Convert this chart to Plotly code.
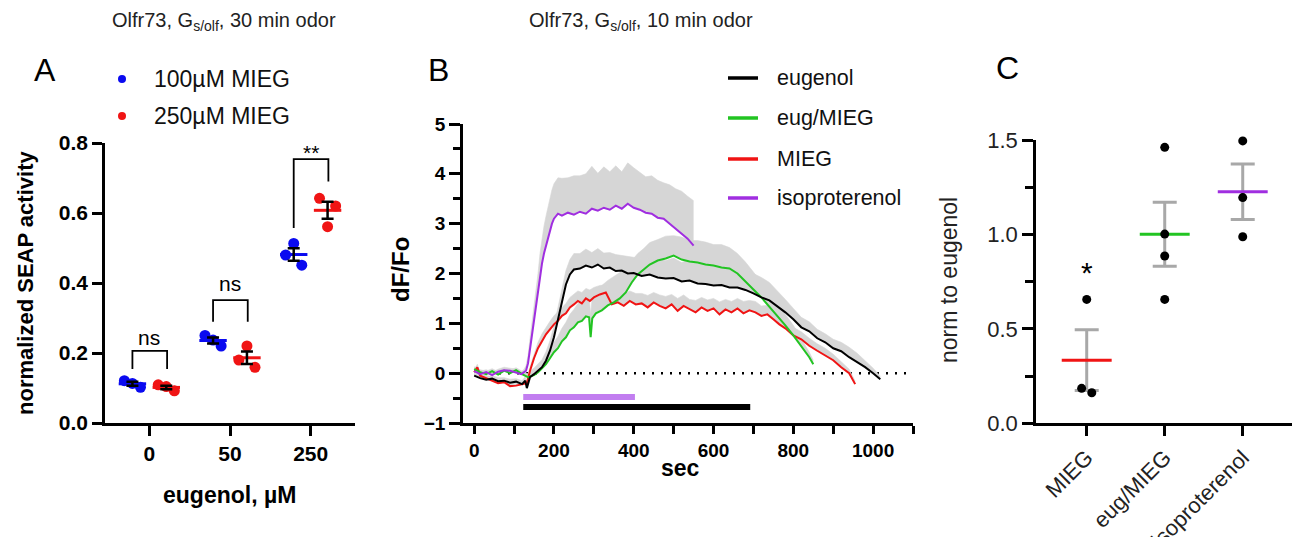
import plotly.graph_objects as go

# ---------------- data ----------------
# Panel A: SEAP activity, points listed left-to-right within each group
a_groups = ["0", "50", "250"]
a_100_mieg = [[0.121, 0.113, 0.102], [0.25, 0.237, 0.22], [0.48, 0.513, 0.451]]
a_250_mieg = [[0.109, 0.104, 0.092], [0.18, 0.22, 0.159], [0.642, 0.561, 0.62]]

# Panel B: dF/Fo traces (mean, sem) vs seconds
eug_t = [0, 15, 30, 45, 60, 75, 90, 105, 120,
         128, 132, 140, 150, 160, 170, 180, 190, 200, 210, 220, 230, 240,
         250, 265, 280, 295, 310, 325, 340, 355, 370, 385, 400,
         420, 440, 460, 480, 500, 520, 540, 560, 580, 600, 620, 640, 660, 680, 700,
         720, 740, 760, 780, 800, 820, 840, 860, 880, 900, 920, 940, 960, 980, 1000,
         1018]
eug_v = [-0.05, -0.1, -0.13, -0.11, -0.16, -0.15, -0.19, -0.17, -0.22,
         -0.15, -0.3, -0.08, -0.02, 0.05, 0.12, 0.25, 0.45, 0.72, 1.08, 1.45, 1.78, 1.98,
         2.08, 2.1, 2.16, 2.12, 2.18, 2.1, 2.12, 2.05, 2.06, 2.0, 2.01,
         1.95, 1.98, 1.92, 1.9, 1.91, 1.84, 1.86, 1.8, 1.79, 1.76, 1.77, 1.72, 1.72, 1.67, 1.6,
         1.52, 1.46, 1.34, 1.22, 1.08, 0.92, 0.84, 0.7, 0.62, 0.5, 0.44, 0.32, 0.22, 0.12, 0.0,
         -0.12]
eug_sem = [0.06, 0.06, 0.07, 0.06, 0.07, 0.06, 0.07, 0.06, 0.07,
           0.08, 0.1, 0.12, 0.12, 0.14, 0.15, 0.18, 0.2, 0.22, 0.24, 0.26, 0.28, 0.3,
           0.32, 0.3, 0.33, 0.3, 0.32, 0.31, 0.3, 0.33, 0.3, 0.34, 0.32,
           0.35, 0.33, 0.38, 0.36, 0.4, 0.38, 0.42, 0.4, 0.42, 0.44, 0.4, 0.42, 0.4, 0.42, 0.4,
           0.4, 0.36, 0.32, 0.26, 0.22, 0.2, 0.19, 0.18, 0.17, 0.18, 0.18, 0.2, 0.18, 0.14, 0.1,
           0.06]

eugmieg_t = [0, 15, 30, 45, 60, 75, 90, 105, 120, 135,
             150, 160, 170, 180, 190, 200, 210, 220, 230, 240, 250, 260, 270, 280,
             288, 292, 296, 305,
             320, 335, 350, 365, 380, 395, 410, 425, 440,
             460, 480, 500, 520, 540, 560, 580, 600, 620, 640, 660, 680, 700, 720, 740,
             760, 780, 800, 820, 840,
             850]
eugmieg_v = [0.08, 0.02, -0.02, 0.04, -0.03, 0.05, 0.0, 0.06, -0.02, -0.08,
             -0.04, 0.02, 0.1, 0.18, 0.3, 0.42, 0.5, 0.64, 0.72, 0.86, 0.92, 1.02, 1.05, 1.14,
             1.12, 0.72, 1.1, 1.2,
             1.26, 1.36, 1.42, 1.5, 1.62, 1.82, 1.98, 2.08, 2.18,
             2.26, 2.3, 2.36, 2.28, 2.24, 2.22, 2.18, 2.16, 2.12, 2.1, 2.0, 1.85, 1.68, 1.52, 1.34,
             1.16, 0.96, 0.76, 0.55, 0.32,
             0.18]
eugmieg_sem = [0.05, 0.05, 0.06, 0.05, 0.06, 0.05, 0.06, 0.05, 0.06, 0.07,
               0.08, 0.1, 0.12, 0.15, 0.18, 0.2, 0.24, 0.26, 0.3, 0.32, 0.36, 0.38, 0.4, 0.42,
               0.42, 0.45, 0.45, 0.45,
               0.5, 0.5, 0.52, 0.52, 0.5, 0.45, 0.42, 0.42, 0.44,
               0.42, 0.45, 0.4, 0.45, 0.42, 0.44, 0.45, 0.42, 0.46, 0.42, 0.4, 0.38, 0.35, 0.3, 0.28,
               0.25, 0.22, 0.2, 0.15, 0.1,
               0.08]

mieg_t = [0, 8, 15, 30, 45, 60, 75, 90, 105, 120, 132,
          140, 150, 160, 170, 180, 190, 200, 210, 220, 230, 240, 250, 260, 270, 280, 290, 300,
          315, 330, 345, 360, 375, 390, 405, 420, 435, 450,
          465, 480, 495, 510, 525, 540, 555, 570, 585, 600,
          615, 630, 645, 660, 675, 690, 705, 720, 735, 750,
          765, 780,
          800, 820, 840, 860, 880, 900, 920, 940,
          955]
mieg_v = [0.02, 0.12, -0.05, -0.1, -0.14, -0.2, -0.18, -0.26, -0.25, -0.22, -0.2,
          0.05, 0.3, 0.5, 0.65, 0.78, 0.88, 0.98, 1.05, 1.15, 1.2, 1.32, 1.38, 1.45, 1.4, 1.5, 1.45, 1.52,
          1.58, 1.62, 1.38, 1.42, 1.35, 1.45, 1.38, 1.4, 1.32, 1.42,
          1.35, 1.3, 1.38, 1.25, 1.35, 1.28, 1.22, 1.32, 1.25, 1.3,
          1.18, 1.28, 1.22, 1.3, 1.2, 1.26, 1.22, 1.15, 1.18, 1.08,
          0.98, 0.9,
          0.76, 0.68, 0.55, 0.45, 0.36, 0.26, 0.12, 0.0,
          -0.22]
mieg_sem = [0.05, 0.06, 0.05, 0.06, 0.05, 0.06, 0.05, 0.06, 0.05, 0.06, 0.06,
            0.08, 0.1, 0.12, 0.14, 0.15, 0.16, 0.17, 0.18, 0.18, 0.2, 0.2, 0.2, 0.2, 0.22, 0.2, 0.22, 0.2,
            0.18, 0.15, 0.22, 0.2, 0.24, 0.2, 0.22, 0.2, 0.24, 0.2,
            0.22, 0.24, 0.2, 0.25, 0.22, 0.2, 0.24, 0.2, 0.22, 0.2,
            0.25, 0.2, 0.22, 0.2, 0.24, 0.2, 0.22, 0.2, 0.18, 0.2,
            0.18, 0.16,
            0.16, 0.15, 0.15, 0.14, 0.14, 0.12, 0.1, 0.08,
            0.06]

iso_t = [0, 15, 30, 45, 60, 75, 90, 105, 118, 125,
         130, 135, 140, 145, 150, 155, 160, 165, 170, 175, 180, 185, 190, 195, 200,
         210, 220,
         235, 250, 265, 280, 295, 310, 325, 340, 355, 370, 385, 400, 415, 430, 445,
         460, 475, 490, 505, 520, 535, 550]
iso_v = [0.04, -0.02, 0.02, -0.04, 0.03, 0.06, 0.05, 0.02, -0.02, 0.02,
         0.05, 0.2, 0.5, 0.75, 1.0, 1.3, 1.6, 1.95, 2.2, 2.4, 2.55, 2.72, 2.88, 3.0, 3.1,
         3.2, 3.16,
         3.22, 3.18, 3.24, 3.2, 3.3, 3.26, 3.32, 3.28, 3.36, 3.3, 3.4, 3.32, 3.28, 3.22, 3.2,
         3.12, 3.1, 3.0, 2.9, 2.8, 2.7, 2.56]
iso_sem = [0.05, 0.06, 0.05, 0.06, 0.05, 0.06, 0.05, 0.06, 0.05, 0.06,
           0.1, 0.15, 0.2, 0.25, 0.3, 0.35, 0.4, 0.45, 0.5, 0.55, 0.6, 0.62, 0.65, 0.68, 0.7,
           0.72, 0.75,
           0.7, 0.78, 0.72, 0.8, 0.85, 0.75, 0.82, 0.76, 0.8, 0.74, 0.82, 0.8, 0.75, 0.72, 0.76,
           0.75, 0.72, 0.78, 0.8, 0.85, 0.85, 0.9]

# stimulus periods (sec)
iso_stim = [123, 403]
odor_stim = [123, 692]

# Panel C: response normalised to eugenol
c_groups = ["MIEG", "eug/MIEG", "isoproterenol"]
c_values = [[0.656, 0.185, 0.162], [1.461, 1.002, 0.886, 0.656], [1.495, 1.195, 0.988]]

# ---------------- style ----------------
W, H = 1300, 537
OFF = 8  # page body margin, compensated so pixel targets land where intended
FONT = "Arial, Liberation Sans, sans-serif"
BLUE, RED = "#0a0af0", "#f01414"
GREEN, PURPLE, PURPLE_BAR = "#22c422", "#a02ee0", "#c27ef0"
BAND = "#d6d6d6"
ERR_GREY = "#a8a8a8"


def px(x):
    return (x - OFF) / W


def py(y):
    return 1 - (y - OFF) / H


def mean_sem(vals):
    n = len(vals)
    m = sum(vals) / n
    sd = (sum((v - m) ** 2 for v in vals) / (n - 1)) ** 0.5
    return m, sd / n ** 0.5


fig = go.Figure()

# ---------------- panel A ----------------
jit = [-0.1, 0.0, 0.1]
for series, color, off in [(a_100_mieg, BLUE, -0.21), (a_250_mieg, RED, 0.21)]:
    for gi, vals in enumerate(series):
        cx = gi + off
        m, s = mean_sem(vals)
        fig.add_trace(go.Scatter(
            x=[cx + j for j in jit], y=vals, mode="markers",
            marker=dict(size=11, color=color), xaxis="x", yaxis="y"))
        fig.add_trace(go.Scatter(
            x=[cx - 0.17, cx + 0.17], y=[m, m], mode="lines",
            line=dict(color=color, width=3), xaxis="x", yaxis="y"))
        fig.add_trace(go.Scatter(
            x=[cx], y=[m], mode="markers", marker=dict(size=1, color="rgba(0,0,0,0)"),
            error_y=dict(type="data", array=[s], color="black", thickness=2.5, width=6),
            xaxis="x", yaxis="y"))

shapes = []
annotations = []
# significance brackets: (group, left leg bottom, right leg bottom, top, label, label y)
for gi, lb, rb, top, lab, ly in [(0, 0.154, 0.154, 0.206, "ns", 0.245),
                                 (1, 0.289, 0.289, 0.351, "ns", 0.40),
                                 (2, 0.557, 0.69, 0.754, "**", 0.772)]:
    x0, x1 = gi - 0.21, gi + 0.22
    shapes.append(dict(type="path", xref="x", yref="y",
                       path=f"M {x0},{lb} L {x0},{top} L {x1},{top} L {x1},{rb}",
                       line=dict(color="black", width=1.8)))
    annotations.append(dict(x=gi, y=ly, xref="x", yref="y", text=lab, showarrow=False,
                            font=dict(size=21, color="black", family=FONT)))

# ---------------- panel B ----------------
series_b = [(iso_t, iso_v, iso_sem, PURPLE), (eugmieg_t, eugmieg_v, eugmieg_sem, GREEN),
            (eug_t, eug_v, eug_sem, "black"), (mieg_t, mieg_v, mieg_sem, RED)]
for t, v, s, c in series_b:
    fig.add_trace(go.Scatter(x=t, y=v, mode="lines", line=dict(width=0),
                             xaxis="x2", yaxis="y2"))
    fig.add_trace(go.Scatter(x=t, y=[a + b for a, b in zip(v, s)], mode="lines",
                             line=dict(width=0.6, color=BAND), fill="tonexty",
                             fillcolor=BAND, xaxis="x2", yaxis="y2"))
for t, v, s, c in [series_b[3], series_b[1], series_b[2], series_b[0]]:
    fig.add_trace(go.Scatter(x=t, y=v, mode="lines", line=dict(color=c, width=2),
                             xaxis="x2", yaxis="y2"))

fig.add_trace(go.Scatter(x=iso_stim, y=[-0.48, -0.48], mode="lines",
                         line=dict(color=PURPLE_BAR, width=6), xaxis="x2", yaxis="y2"))
fig.add_trace(go.Scatter(x=odor_stim, y=[-0.68, -0.68], mode="lines",
                         line=dict(color="black", width=6), xaxis="x2", yaxis="y2"))
shapes.append(dict(type="line", xref="x2 domain", yref="y2", x0=0.06, x1=1, y0=0, y1=0,
                   line=dict(color="black", width=2.5, dash="2px,7px"), layer="below"))

# ---------------- panel C ----------------
c_colors = [RED, GREEN, PURPLE]
c_jit = [[0, -0.065, 0.065], [0, 0, 0, 0], [0, 0, 0]]
for gi, vals in enumerate(c_values):
    m, s = mean_sem(vals)
    fig.add_trace(go.Scatter(
        x=[gi], y=[m], mode="markers", marker=dict(size=1, color="rgba(0,0,0,0)"),
        error_y=dict(type="data", array=[s], color=ERR_GREY, thickness=3, width=12),
        xaxis="x3", yaxis="y3"))
    fig.add_trace(go.Scatter(
        x=[gi - 0.32, gi + 0.32], y=[m, m], mode="lines",
        line=dict(color=c_colors[gi], width=3), xaxis="x3", yaxis="y3"))
for gi, vals in enumerate(c_values):
    fig.add_trace(go.Scatter(
        x=[gi + j for j in c_jit[gi]], y=vals, mode="markers", cliponaxis=False,
        marker=dict(size=9, color="black"), xaxis="x3", yaxis="y3"))
annotations.append(dict(x=0, y=0.8, xref="x3", yref="y3", text="*", showarrow=False,
                        font=dict(size=30, color="black", family=FONT)))

# ---------------- text ----------------
def label(x, y, text, size, bold=False, angle=0, xanchor="center", color="black"):
    annotations.append(dict(x=px(x), y=py(y), xref="paper", yref="paper", text=text,
                            showarrow=False, textangle=angle, xanchor=xanchor, yanchor="middle",
                            font=dict(size=size, color=color, family=FONT,
                                      weight="bold" if bold else "normal")))


label(224, 22, "Olfr73, G<sub>s/olf</sub>, 30 min odor", 20, color="#222")
label(641, 22, "Olfr73, G<sub>s/olf</sub>, 10 min odor", 20, color="#222")
label(45, 70, "A", 32)
label(438, 70, "B", 32)
label(1007, 68, "C", 32)
label(25, 283, "normalized SEAP activity", 22, bold=True, angle=-90)
label(230, 495, "eugenol, µM", 23, bold=True)
label(400, 270, "dF/Fo", 24, bold=True, angle=-90)
label(680, 468, "sec", 23, bold=True)
label(949, 280, "norm to eugenol", 23, angle=-90, color="#222")

# legend A
for yy, color, text in [(79, BLUE, "100µM MIEG"), (116, RED, "250µM MIEG")]:
    shapes.append(dict(type="circle", xref="paper", yref="paper", x0=px(118), x1=px(126),
                       y0=py(yy + 4), y1=py(yy - 4), fillcolor=color, line=dict(width=0)))
    label(152, yy, text, 23, xanchor="left", color="#111")

# legend B
for yy, color, text in [(78, "black", "eugenol"), (118, GREEN, "eug/MIEG"),
                        (159, RED, "MIEG"), (198, PURPLE, "isoproterenol")]:
    shapes.append(dict(type="line", xref="paper", yref="paper", x0=px(728), x1=px(758),
                       y0=py(yy), y1=py(yy), line=dict(color=color, width=3.5)))
    label(775, yy, text, 21.5, xanchor="left", color="#111")

# ---------------- axes ----------------
ax = dict(showline=True, linecolor="black", linewidth=2.5, ticks="outside", tickwidth=2.5,
          tickcolor="black", showgrid=False, zeroline=False, automargin=False)
bold_tick = dict(size=21, color="black", family=FONT, weight="bold")

fig.update_layout(
    width=W, height=H, margin=dict(l=0, r=0, t=0, b=0, autoexpand=False),
    paper_bgcolor="white", plot_bgcolor="white", showlegend=False,
    font=dict(family=FONT),
    xaxis=dict(**ax, domain=[px(105), px(355)], range=[-0.55, 2.55], anchor="y",
               tickvals=[0, 1, 2], ticktext=a_groups, ticklen=10, tickfont=bold_tick),
    yaxis=dict(**ax, domain=[py(423), py(143)], range=[0, 0.8], anchor="x",
               tickvals=[0, 0.2, 0.4, 0.6, 0.8], ticktext=["0.0", "0.2", "0.4", "0.6", "0.8"],
               ticklen=10, tickfont=bold_tick),
    xaxis2=dict(**ax, domain=[px(463), px(913)], range=[-28, 1100], anchor="y2",
                tickvals=[0, 200, 400, 600, 800, 1000], ticklen=8,
                tickfont=dict(size=19, color="black", family=FONT, weight="bold"),
                minor=dict(ticks="outside", dtick=100, tick0=0, ticklen=8, tickwidth=2.5,
                           tickcolor="black")),
    yaxis2=dict(**ax, domain=[py(423), py(124)], range=[-1, 5], anchor="x2",
                tickvals=[-1, 0, 1, 2, 3, 4, 5], ticklen=11,
                tickfont=dict(size=19, color="black", family=FONT, weight="bold"),
                minor=dict(ticks="outside", dtick=0.5, tick0=0, ticklen=7, tickwidth=2.5,
                           tickcolor="black")),
    xaxis3=dict(**ax, domain=[px(1036), px(1295)], range=[-0.65, 2.67], anchor="y3",
                tickvals=[0, 1, 2], ticktext=c_groups, ticklen=10, tickangle=-45,
                tickfont=dict(size=22, color="#222", family=FONT)),
    yaxis3=dict(**ax, domain=[py(423.3), py(140)], range=[0, 1.5], anchor="x3",
                tickvals=[0, 0.5, 1.0, 1.5], ticktext=["0.0", "0.5", "1.0", "1.5"],
                ticklen=11, tickfont=dict(size=22, color="#222", family=FONT),
                minor=dict(ticks="outside", dtick=0.25, tick0=0, ticklen=8, tickwidth=2.5,
                           tickcolor="black")),
    shapes=shapes, annotations=annotations,
)

fig.write_html("out.html")
